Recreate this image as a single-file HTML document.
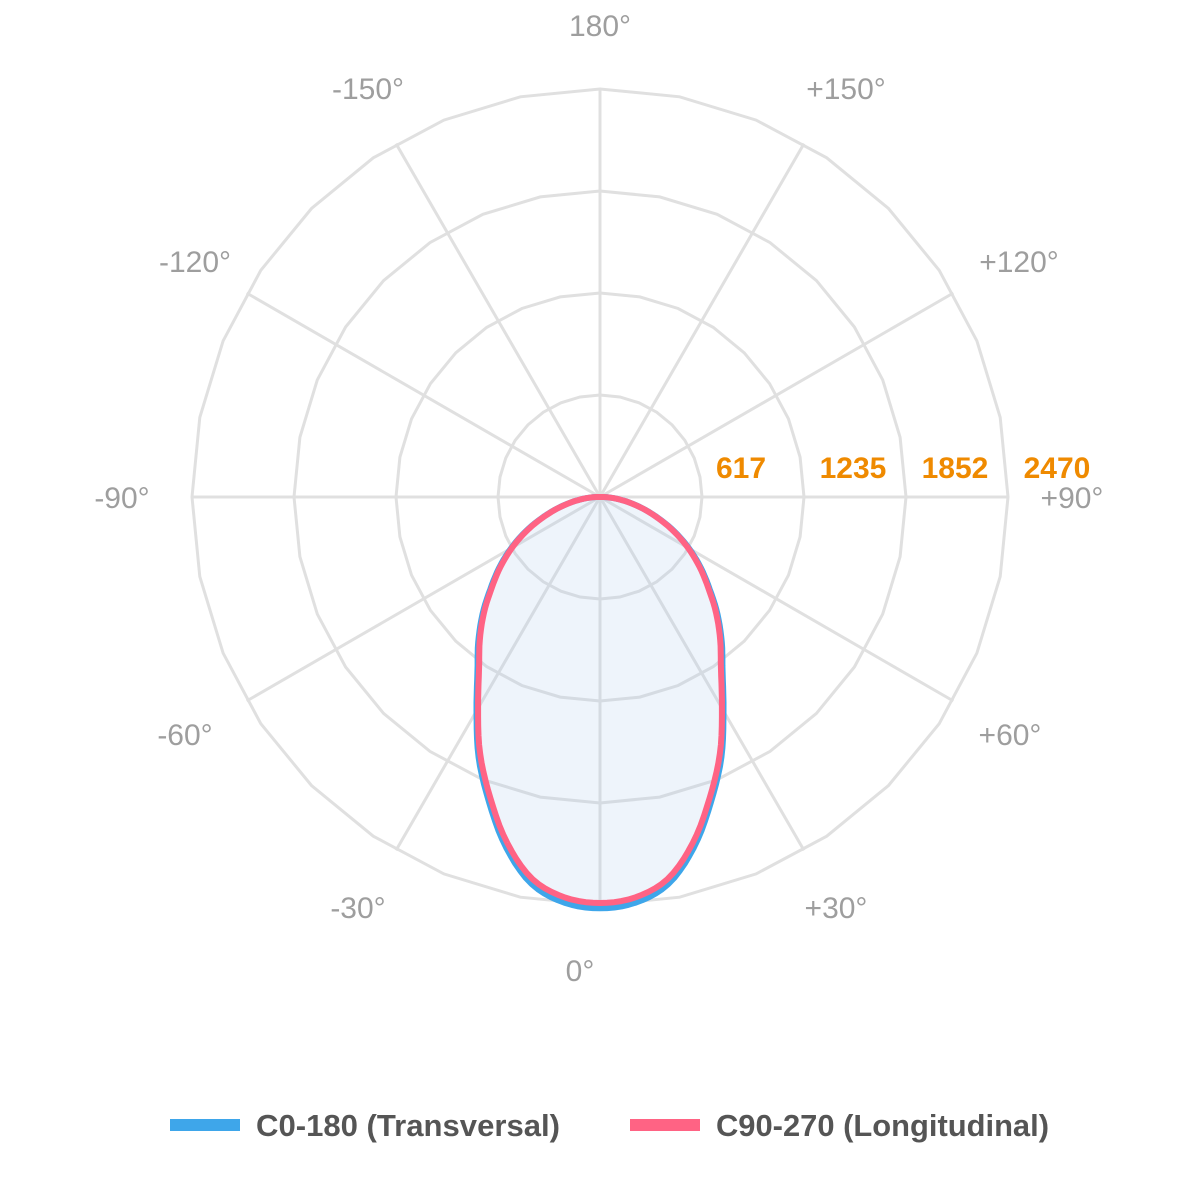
<!DOCTYPE html>
<html><head><meta charset="utf-8"><style>
html,body{margin:0;padding:0;background:#fff;}
svg{display:block;font-family:"Liberation Sans",Arial,sans-serif;}
</style></head><body>
<svg width="1200" height="1200" viewBox="0 0 1200 1200" xmlns="http://www.w3.org/2000/svg">
<g id="grid" fill="none" stroke="#e0e0e0" stroke-width="3"></g>
<g id="spokes" stroke="#e0e0e0" stroke-width="3"></g>
<g font-size="30" fill="#9e9e9e" text-anchor="middle">
<text x="600" y="36">180°</text>
<text x="368" y="99">-150°</text>
<text x="846" y="99">+150°</text>
<text x="195" y="272">-120°</text>
<text x="1019" y="272">+120°</text>
<text x="122" y="508">-90°</text>
<text x="1072" y="508">+90°</text>
<text x="185" y="745">-60°</text>
<text x="1010" y="745">+60°</text>
<text x="358" y="918">-30°</text>
<text x="836" y="918">+30°</text>
<text x="580" y="981">0°</text>
</g>
<path id="blue" fill="#a9c8ec" fill-opacity="0.2" stroke="#3ea6ea" stroke-width="6" stroke-linejoin="round"/>
<path id="red" fill="none" stroke="#ff6384" stroke-width="6" stroke-linejoin="round"/>
<g font-size="30" font-weight="bold" fill="#ef8a00" text-anchor="middle">
<text x="741" y="478">617</text>
<text x="853" y="478">1235</text>
<text x="955" y="478">1852</text>
<text x="1057" y="478">2470</text>
</g>
<rect x="170" y="1119" width="70" height="12" fill="#3ea6ea"/>
<text x="256" y="1136" font-size="31" font-weight="bold" fill="#555" textLength="304" lengthAdjust="spacingAndGlyphs">C0-180 (Transversal)</text>
<rect x="630" y="1119" width="70" height="12" fill="#ff6384"/>
<text x="716" y="1136" font-size="31" font-weight="bold" fill="#555" textLength="333" lengthAdjust="spacingAndGlyphs">C90-270 (Longitudinal)</text>
<script>
var cx=600,cy=497,ns="http://www.w3.org/2000/svg";
var g=document.getElementById('grid');
[102,204,306,408].forEach(function(r){var p=[];for(var k=0;k<32;k++){var a=k*Math.PI/16;p.push((cx+r*Math.sin(a)).toFixed(1)+','+(cy-r*Math.cos(a)).toFixed(1));}
var e=document.createElementNS(ns,'polygon');e.setAttribute('points',p.join(' '));g.appendChild(e);});
var s=document.getElementById('spokes');
for(var k=0;k<12;k++){var a=k*Math.PI/6;var l=document.createElementNS(ns,'line');l.setAttribute('x1',cx);l.setAttribute('y1',cy);l.setAttribute('x2',cx+408*Math.sin(a));l.setAttribute('y2',cy-408*Math.cos(a));s.appendChild(l);}
var R=[408,404,390,360,322,285,245,212,188,165,142,122,102,82,62,44,28,14,4];
function rAt(d){d=Math.abs(d);var i=Math.floor(d/5),f=d/5-i;if(i>=18)return R[18];
var p0=R[Math.max(i-1,0)],p1=R[i],p2=R[i+1],p3=R[Math.min(i+2,18)];
if(i==0)p0=R[1];
return 0.5*((2*p1)+(-p0+p2)*f+(2*p0-5*p1+4*p2-p3)*f*f+(-p0+3*p1-3*p2+p3)*f*f*f);}
function path(sc){var pts=[];for(var d=-90;d<=90;d+=1){var t=d*Math.PI/180;var r=rAt(d)*sc;pts.push((cx+r*Math.sin(t)).toFixed(1)+','+(cy+r*Math.cos(t)).toFixed(1));}
return 'M'+cx+','+cy+' L'+pts.join(' L')+' Z';}
document.getElementById('blue').setAttribute('d',path(1.008));
document.getElementById('red').setAttribute('d',path(0.995));
</script>
</svg>
</body></html>
